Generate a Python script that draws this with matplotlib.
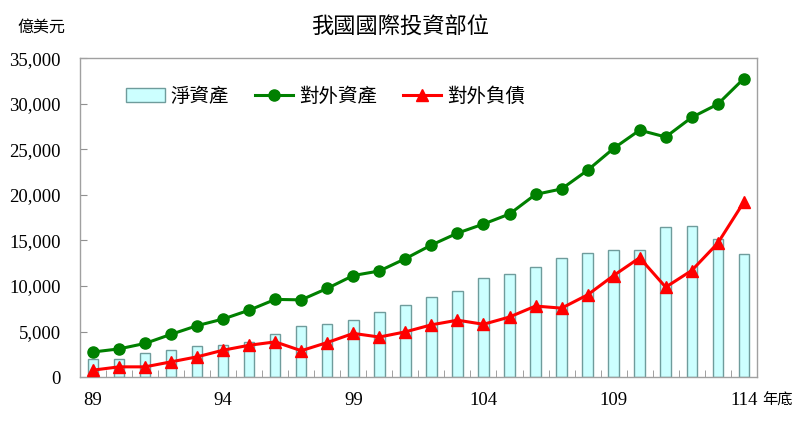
import matplotlib
matplotlib.use("Agg")
import matplotlib.pyplot as plt
import numpy as np
from matplotlib.ticker import FuncFormatter, FixedLocator

years = list(range(89, 115))
net_assets = [1970, 1970, 2600, 3000, 3400, 3500, 3840, 4680, 5600, 5850,
              6300, 7200, 7970, 8800, 9500, 10900, 11270, 12080, 13100, 13650,
              13900, 13900, 16460, 16600, 15140, 13500]
foreign_assets = [2760, 3100, 3700, 4700, 5650, 6380, 7350, 8530, 8480, 9740,
                  11150, 11650, 13000, 14500, 15800, 16800, 17900, 20050, 20650, 22700,
                  25100, 27100, 26350, 28500, 29950, 32750]
foreign_liab = [770, 1130, 1130, 1680, 2230, 2960, 3500, 3870, 2900, 3800,
                4800, 4400, 4970, 5740, 6250, 5800, 6600, 7800, 7570, 9030,
                11150, 13100, 9870, 11700, 14700, 19200]
label_years = [89, 94, 99, 104, 109, 114]

title = "我國國際投資部位"
unit = "億美元"
xunit = "年底"
names = ["淨資產", "對外資產", "對外負債"]

cjk = ["Noto Sans CJK TC", "DejaVu Sans"]
serif = ["Liberation Serif", "DejaVu Serif"]

fig = plt.figure(figsize=(8.0, 4.34), dpi=100)
ax = fig.add_axes([0.1, 0.131, 0.846, 0.735])

x = np.arange(len(years))
b = ax.bar(x, net_assets, width=0.4, color="#ccffff", edgecolor="#6f9c9c",
           linewidth=1.0, label=names[0], zorder=2)
l1, = ax.plot(x, foreign_assets, color="#008000", lw=2.2, marker="o",
              markersize=8, label=names[1], zorder=3)
l2, = ax.plot(x, foreign_liab, color="#ff0000", lw=2.2, marker="^",
              markersize=8, label=names[2], zorder=4)

ax.set_xlim(-0.5, len(years) - 0.5)
ax.set_ylim(0, 35000)
ax.set_yticks(np.arange(0, 35001, 5000))
ax.yaxis.set_major_formatter(FuncFormatter(lambda v, p: f"{int(v):,}"))

major_pos = [years.index(y) for y in label_years]
ax.set_xticks(major_pos)
ax.set_xticklabels([str(y) for y in label_years])
ax.xaxis.set_minor_locator(FixedLocator(np.arange(0.5, len(years) - 1, 1.0)))
ax.tick_params(axis="x", which="major", length=0, pad=11)
ax.tick_params(axis="x", which="minor", direction="in", length=5, color="#909090")
ax.tick_params(axis="y", direction="in", length=5, color="#909090", pad=14)

for lab in ax.get_xticklabels() + ax.get_yticklabels():
    lab.set_fontfamily(serif)
    lab.set_fontsize(13.5)

for s in ax.spines.values():
    s.set_color("#a0a0a0")
    s.set_linewidth(1.0)

fig.text(0.5, 0.938, title, ha="center", va="center", fontsize=16, family=cjk)
fig.text(0.052, 0.938, unit, ha="center", va="center", fontsize=11.5, family=cjk)
fig.text(0.972, 0.078, xunit, ha="center", va="center", fontsize=11, family=cjk)

leg = ax.legend(handles=[b, l1, l2], loc="center", bbox_to_anchor=(0.363, 0.881),
                ncol=3, frameon=False, prop={"family": cjk, "size": 14},
                handlelength=2.0, handletextpad=0.3, columnspacing=1.3)

fig.savefig("out.png", dpi=100)
